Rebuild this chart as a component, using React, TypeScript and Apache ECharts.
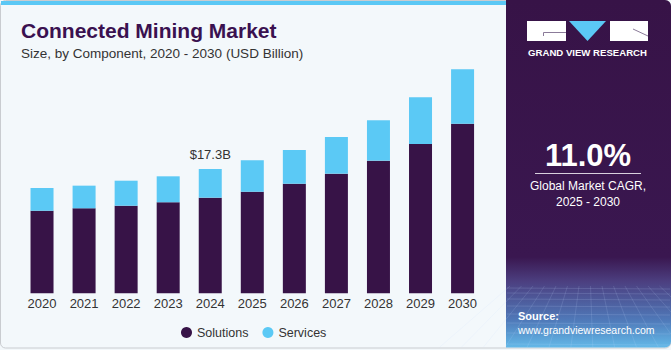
import React, { useEffect, useRef } from "react";
import * as echarts from "echarts";

const years = ["2020", "2021", "2022", "2023", "2024", "2025", "2026", "2027", "2028", "2029", "2030"];
const solutions = [11.5, 11.83, 12.19, 12.67, 13.31, 14.14, 15.25, 16.65, 18.46, 20.78, 23.6];
const services = [3.16, 3.15, 3.48, 3.61, 3.99, 4.37, 4.69, 5.1, 5.62, 6.5, 7.58];
const highlightIndex = 4;
const highlightLabel = "$17.3B";
const cagrText = "11.0%";

const FONT = "'Liberation Sans', Arial, sans-serif";

function textureLines() {
  const out: any[] = [];
  const ys = [288, 293, 299, 306, 314, 323, 333, 344];
  ys.forEach((y) => {
    out.push({
      type: "line",
      shape: { x1: 507, y1: y, x2: 670, y2: y + 1 },
      style: { stroke: "rgba(200,220,255,0.16)", lineWidth: 1 },
      z: 4,
    });
  });
  for (let i = 0; i <= 14; i++) {
    const xTop = 510 + i * 11.5;
    const xBot = 588 + (xTop - 588) * 1.9;
    out.push({
      type: "line",
      shape: { x1: xTop, y1: 286, x2: xBot, y2: 347 },
      style: { stroke: "rgba(200,220,255,0.14)", lineWidth: 1 },
      z: 4,
    });
  }
  return out;
}

export default function App() {
  const ref = useRef<HTMLDivElement>(null);
  useEffect(() => {
    if (!ref.current) return;
    const chart = echarts.init(ref.current, null, { renderer: "svg" });
    const option: any = {
      animation: false,
      backgroundColor: "#f3f8fb",
      textStyle: { fontFamily: FONT },
      title: {
        text: "Connected Mining Market",
        subtext: "Size, by Component, 2020 - 2030 (USD Billion)",
        left: 16,
        top: 15,
        itemGap: 5,
        textStyle: { fontSize: 21, fontWeight: 900, color: "#3a1150", fontFamily: FONT },
        subtextStyle: { fontSize: 13.5, color: "#333", fontFamily: FONT },
      },
      legend: {
        left: 176,
        top: 321,
        icon: "circle",
        itemWidth: 11,
        itemHeight: 11,
        itemGap: 14,
        textStyle: { fontSize: 12.5, color: "#333", fontFamily: FONT },
        data: ["Solutions", "Services"],
      },
      grid: { left: 21, right: 187.4, top: 41.8, bottom: 56.7 },
      xAxis: {
        type: "category",
        data: years,
        axisLine: { show: false },
        axisTick: { show: false },
        axisLabel: { fontSize: 13, color: "#333", margin: 4, fontFamily: FONT },
      },
      yAxis: { type: "value", min: 0, max: 35, show: false, splitLine: { show: false } },
      series: [
        {
          name: "Solutions",
          type: "bar",
          stack: "total",
          barWidth: 23,
          itemStyle: { color: "#371347" },
          data: solutions,
        },
        {
          name: "Services",
          type: "bar",
          stack: "total",
          barWidth: 23,
          itemStyle: { color: "#5bc9f5" },
          data: services.map((v, i) =>
            i === highlightIndex
              ? {
                  value: v,
                  label: {
                    show: true,
                    position: "top",
                    distance: 8,
                    formatter: highlightLabel,
                    fontSize: 13,
                    color: "#333",
                    fontFamily: FONT,
                  },
                }
              : v
          ),
        },
      ],
      graphic: [
        {
          type: "rect",
          shape: { x: 0.5, y: 0.5, width: 670, height: 347.5, r: 5 },
          style: { fill: "none", stroke: "#c9ccd0", lineWidth: 1 },
          z: 1,
        },
        {
          type: "rect",
          shape: { x: 1, y: 1, width: 505, height: 4 },
          style: { fill: "#5bc8f5" },
          z: 2,
        },
        {
          type: "rect",
          shape: { x: 506, y: 0, width: 165, height: 347.5, r: [0, 6, 6, 0] },
          style: {
            fill: new echarts.graphic.LinearGradient(0, 0, 0, 1, [
              { offset: 0, color: "#371347" },
              { offset: 0.74, color: "#3a1750" },
              { offset: 0.81, color: "#4c3f80" },
              { offset: 0.92, color: "#4f78b8" },
              { offset: 1, color: "#63b9e8" },
            ]),
          },
          z: 3,
        },
        ...textureLines(),
        // logo
        { type: "rect", shape: { x: 527, y: 21, width: 39, height: 20 }, style: { fill: "#fff" }, z: 5 },
        {
          type: "polyline",
          shape: { points: [[543.5, 36], [543.5, 32.5], [566, 32.5]] },
          style: { stroke: "#8b7b99", lineWidth: 1, fill: "none" },
          z: 6,
        },
        {
          type: "polygon",
          shape: { points: [[569, 21], [606, 21], [587.5, 41]] },
          style: { fill: "#5bc8f5" },
          z: 5,
        },
        { type: "rect", shape: { x: 610, y: 21, width: 38, height: 20 }, style: { fill: "#fff" }, z: 5 },
        {
          type: "line",
          shape: { x1: 633, y1: 29, x2: 648, y2: 36 },
          style: { stroke: "#8b7b99", lineWidth: 1 },
          z: 6,
        },
        {
          type: "text",
          x: 587.5,
          y: 52,
          style: {
            text: "GRAND VIEW RESEARCH",
            fill: "#fff",
            fontSize: 9.6,
            fontWeight: "bold",
            fontFamily: FONT,
            textAlign: "center",
            textVerticalAlign: "middle",
          },
          z: 6,
        },
        {
          type: "text",
          x: 588,
          y: 155,
          style: {
            text: cagrText,
            fill: "#fff",
            fontSize: 31,
            fontWeight: "bold",
            fontFamily: FONT,
            textAlign: "center",
            textVerticalAlign: "middle",
          },
          z: 6,
        },
        {
          type: "line",
          shape: { x1: 535, y1: 173.5, x2: 641, y2: 173.5 },
          style: { stroke: "#d8d0de", lineWidth: 1 },
          z: 6,
        },
        {
          type: "text",
          x: 588,
          y: 185.5,
          style: {
            text: "Global Market CAGR,",
            fill: "#fff",
            fontSize: 12,
            fontFamily: FONT,
            textAlign: "center",
            textVerticalAlign: "middle",
          },
          z: 6,
        },
        {
          type: "text",
          x: 588,
          y: 201.5,
          style: {
            text: "2025 - 2030",
            fill: "#fff",
            fontSize: 12,
            fontFamily: FONT,
            textAlign: "center",
            textVerticalAlign: "middle",
          },
          z: 6,
        },
        {
          type: "text",
          x: 518,
          y: 316,
          style: {
            text: "Source:",
            fill: "#fff",
            fontSize: 11,
            fontWeight: "bold",
            fontFamily: FONT,
            textAlign: "left",
            textVerticalAlign: "middle",
          },
          z: 6,
        },
        {
          type: "text",
          x: 518,
          y: 329.5,
          style: {
            text: "www.grandviewresearch.com",
            fill: "#fff",
            fontSize: 10.5,
            fontFamily: FONT,
            textAlign: "left",
            textVerticalAlign: "middle",
          },
          z: 6,
        },
      ],
    };
    chart.setOption(option);
    return () => chart.dispose();
  }, []);
  return (
    <div
      ref={ref}
      style={{ position: "fixed", left: 0, top: 0, width: 671, height: 350 }}
    />
  );
}
